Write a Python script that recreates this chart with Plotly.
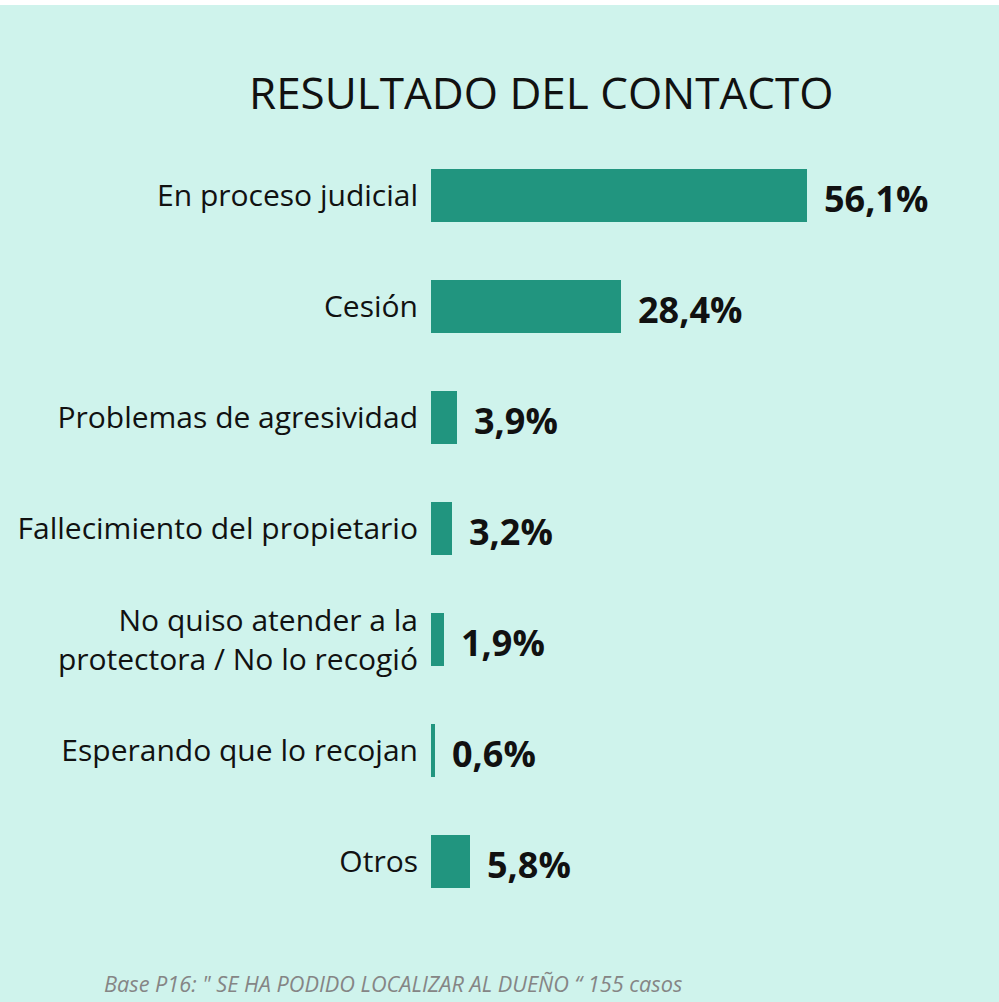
import plotly.graph_objects as go

# Data
categories = [
    "En proceso judicial",
    "Cesión",
    "Problemas de agresividad",
    "Fallecimiento del propietario",
    "No quiso atender a la<br>protectora / No lo recogió",
    "Esperando que lo recojan",
    "Otros",
]
values = [56.1, 28.4, 3.9, 3.2, 1.9, 0.6, 5.8]
value_labels = ["56,1%", "28,4%", "3,9%", "3,2%", "1,9%", "0,6%", "5,8%"]

title_text = "RESULTADO DEL CONTACTO"
footer_text = "Base P16: \" SE HA PODIDO LOCALIZAR AL DUEÑO “ 155 casos"

BG = "#cff3ec"
BAR = "#21957f"
W, H = 999, 1002
M_L, M_R, M_T, M_B = 431, 99, 140, 85

fig = go.Figure(
    go.Bar(
        x=values,
        y=categories,
        orientation="h",
        width=0.48,
        marker=dict(color=BAR, line=dict(width=0)),
        hoverinfo="skip",
    )
)

# value labels to the right of each bar
for cat, v, lab in zip(categories, values, value_labels):
    fig.add_annotation(
        x=v, y=cat, text=f"<b>{lab}</b>", showarrow=False,
        xanchor="left", yanchor="middle", xshift=15, yshift=-3,
        font=dict(family="Open Sans", size=36, color="#111111"),
    )

# title
fig.add_annotation(
    x=541, y=H - 92, xref="paper", yref="paper", text=title_text, showarrow=False,
    xanchor="center", yanchor="middle",
    font=dict(family="Open Sans", size=44, color="#111111", weight=400),
)

fig.add_annotation(
    x=102, y=H - 983, xref="paper", yref="paper", text=f"<i>{footer_text}</i>",
    showarrow=False, xanchor="left", yanchor="middle",
    font=dict(family="Open Sans", size=21.7, color="#858585"),
)

# convert pixel positions of the free-floating annotations to paper fractions
pw = W - M_L - M_R
ph = H - M_T - M_B
for a in fig.layout.annotations:
    if a.xref == "paper":
        a.x = (a.x - M_L) / pw
        a.y = (a.y - M_B) / ph

# thin white band along the top edge
fig.add_shape(
    type="rect", xref="paper", yref="paper",
    x0=(0 - M_L) / pw, x1=(W - M_L) / pw,
    y0=(H - 5 - M_B) / ph, y1=(H - M_B) / ph,
    fillcolor="white", line=dict(width=0), layer="below",
)

fig.update_layout(
    width=W, height=H,
    margin=dict(l=M_L, r=M_R, t=M_T, b=M_B),
    paper_bgcolor=BG, plot_bgcolor=BG,
    showlegend=False,
    bargap=0,
)
fig.update_xaxes(range=[0, 70], visible=False, fixedrange=True)
fig.update_yaxes(
    autorange="reversed", showgrid=False, zeroline=False, showline=False,
    ticks="", ticklabelstandoff=12,
    tickfont=dict(family="Open Sans", size=30, color="#111111"),
)

fig.write_html("out.html")
